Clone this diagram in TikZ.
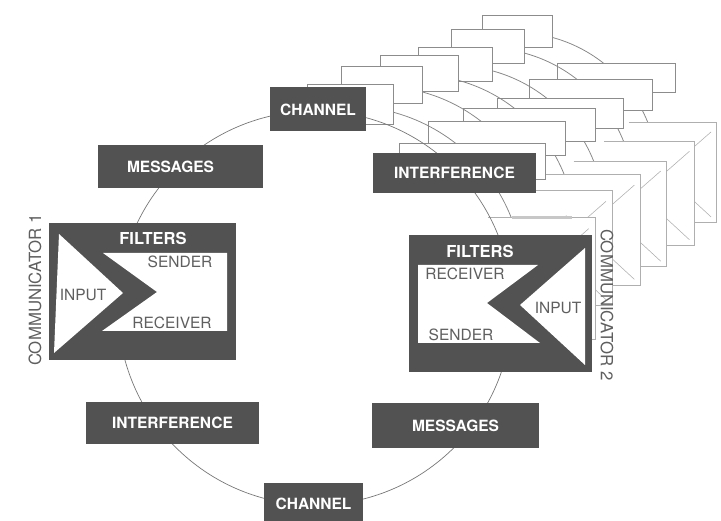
\documentclass[tikz,border=0pt]{standalone}
\usepackage{fontspec}
\setmainfont{TeX Gyre Heros}
\definecolor{boxgray}{RGB}{82,82,82}
\definecolor{labelgray}{RGB}{95,95,95}
\definecolor{ringgray}{RGB}{120,120,120}
\definecolor{echogray}{RGB}{140,140,140}
\definecolor{faintgray}{RGB}{175,175,175}
\begin{document}
\begin{tikzpicture}[x=1pt,y=-1pt,
  box/.style={fill=boxgray, draw=none, inner sep=0pt, outer sep=0pt,
    text=white, font=\bfseries\fontsize{15.5}{18}\selectfont},
  filterbox/.style={fill=boxgray, draw=none, inner sep=0pt, outer sep=0pt},
  title/.style={text=white, inner sep=0pt, font=\bfseries\fontsize{16.5}{19}\selectfont},
  inlabel/.style={text=labelgray, inner sep=0pt, font=\fontsize{15.5}{18}\selectfont},
  sidelabel/.style={text=labelgray, inner sep=0pt, font=\fontsize{16.8}{19}\selectfont},
  ring/.style={draw=ringgray, line width=0.7pt},
  echo/.style={draw=echogray, line width=0.6pt, fill=white},
  echofaint/.style={draw=faintgray, line width=0.55pt},
  echoarc/.style={draw=ringgray!90, line width=0.75pt}
]
% canvas
\fill[white] (0,0) rectangle (721,521);
\useasboundingbox (0,0) rectangle (721,521);

% receding copies of the upper right quarter, farthest first
\foreach \s/\tx/\ny in {0.726/286.3/48.1, 0.755/247.7/35.9, 0.77/210.2/19.9,
                        0.805/163.4/14.5, 0.84/114.6/7.0, 0.894/65.8/-6.9}{
  \begin{scope}[xshift=\tx pt, yshift=\ny pt, scale=\s]
    \draw[echoarc] (362.66,116.85) arc[start angle=-76, end angle=-20, radius=197];
    \path[echo] (270,87) rectangle (366,131);
    \path[echo] (373,153) rectangle (536,193);
    % filter copy: only its upper, right and lower edges show
    \fill[white] (409,235) rectangle (592,372);
    \draw[echofaint] (472,235) -- (592,235) -- (592,372) -- (520,372);
    \draw[echofaint] (538,265) -- (487,303) -- (540,343) -- (500,343);
    \draw[echofaint] (585,248) -- (520,305) -- (585,365);
  \end{scope}
}
\fill[faintgray!70] (512,215.6) rectangle (572,218.8);

% the ring joining the stages
\coordinate (hub) at (315,308);
\draw[ring] (hub) circle[radius=197];

% stage boxes
\node[box, minimum width=96pt, minimum height=44pt] (chanTop) at (318,109.5) {CHANNEL};
\node[box, minimum width=165pt, minimum height=43pt] (msgTop) at (180.5,166.5) {\hspace*{-20pt}MESSAGES};
\node[box, minimum width=163pt, minimum height=40pt] (intTop) at (454.5,173) {INTERFERENCE};
\node[box, minimum width=173pt, minimum height=42pt] (intBot) at (172.5,423) {INTERFERENCE};
\node[box, minimum width=167pt, minimum height=45pt] (msgBot) at (455.5,425.5) {MESSAGES};
\node[box, minimum width=99pt, minimum height=42pt] (chanBot) at (313.5,504) {CHANNEL};

% communicator 1
\node[filterbox, minimum width=187pt, minimum height=137pt] (filtL) at (142.5,291.5) {};
\fill[white] (59,234) -- (123,293) -- (54,353) -- cycle;
\fill[white] (103,253) -- (227,253) -- (227,331) -- (102,331) -- (157,292) -- cycle;
\node[title] (filtLtitle) at (153,238) {FILTERS};
\node[inlabel] (sendL) at (180,262) {SENDER};
\node[inlabel] (inL) at (83,295) {INPUT};
\node[inlabel] (recvL) at (172,323) {RECEIVER};
\node[sidelabel, rotate=90] (commL) at (35,290) {COMMUNICATOR 1};

% communicator 2
\node[filterbox, minimum width=183pt, minimum height=137pt] (filtR) at (500.5,303.5) {};
\fill[white] (418,265) -- (538,265) -- (487,303) -- (540,343) -- (418,343) -- cycle;
\fill[white] (585,248) -- (520,305) -- (585,365) -- cycle;
\node[title] (filtRtitle) at (480,251) {FILTERS};
\node[inlabel] (recvR) at (465,274) {RECEIVER};
\node[inlabel] (inR) at (558,308) {INPUT};
\node[inlabel] (sendR) at (461,335) {SENDER};
\node[sidelabel, rotate=-90] (commR) at (607,305) {COMMUNICATOR 2};
\end{tikzpicture}
\end{document}
